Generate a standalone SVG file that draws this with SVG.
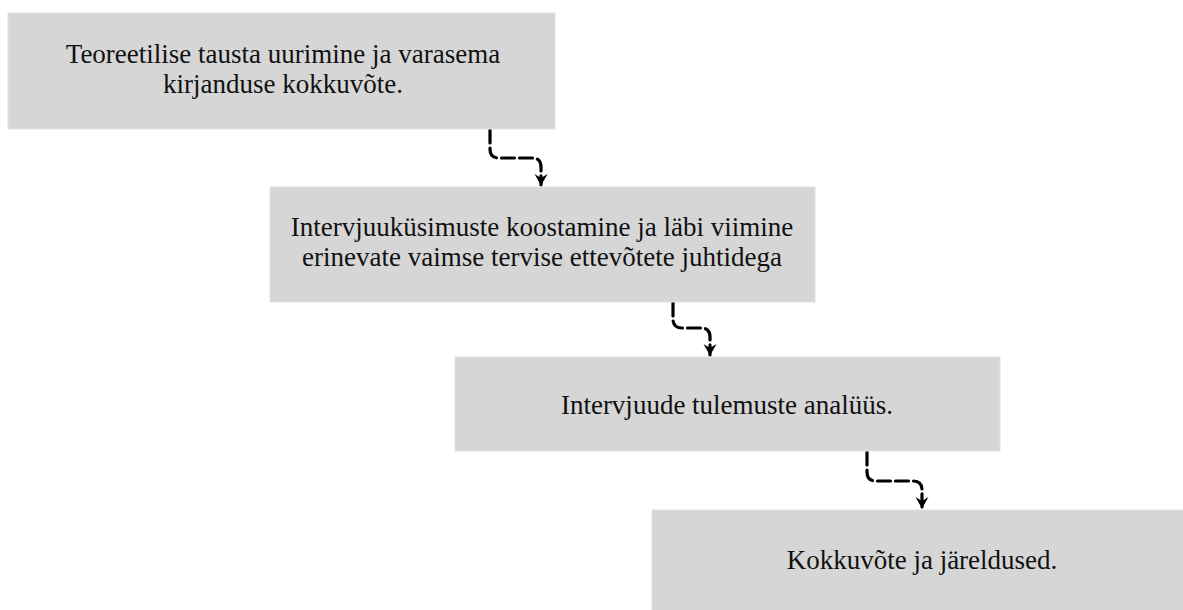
<svg xmlns="http://www.w3.org/2000/svg" width="1183" height="610" viewBox="0 0 1183 610">
<style>
.box{fill:#d6d6d6;stroke:#e2e2e2;stroke-width:1}
.t{font-family:"Liberation Serif","Times New Roman",serif;font-size:27px;fill:#111;text-anchor:middle}
.c{fill:none;stroke:#000;stroke-width:3.2;stroke-dasharray:13,5;stroke-linecap:round;stroke-linejoin:round}
</style>
<defs>
<marker id="ah" markerWidth="12" markerHeight="14" refX="11" refY="7" orient="auto" markerUnits="userSpaceOnUse" viewBox="0 0 12 14">
<path d="M0,0.5 L11.5,7 L0,13.5 L4,7 Z" fill="#000"/>
</marker>
</defs>
<rect width="1183" height="610" fill="#fff"/>
<g id="connectors">
<path class="c" d="M490,130 V149 Q490,158 499,158 H532 Q541,158 541,167 V185" marker-end="url(#ah)"/>
<path class="c" d="M673,303 V319 Q673,328 682,328 H701 Q710,328 710,337 V355" marker-end="url(#ah)"/>
<path class="c" d="M867,452 V472 Q867,481 876,481 H913 Q922,481 922,490 V508" marker-end="url(#ah)"/>
</g>
<g id="node1">
<rect class="box" x="8" y="13" width="547" height="116"/>
<text class="t" x="283" y="63">Teoreetilise tausta uurimine ja varasema</text>
<text class="t" x="283" y="93">kirjanduse kokkuvõte.</text>
</g>
<g id="node2">
<rect class="box" x="270" y="187" width="545" height="115"/>
<text class="t" x="542" y="236">Intervjuuküsimuste koostamine ja läbi viimine</text>
<text class="t" x="542" y="266">erinevate vaimse tervise ettevõtete juhtidega</text>
</g>
<g id="node3">
<rect class="box" x="455" y="357" width="545" height="94"/>
<text class="t" x="727" y="414">Intervjuude tulemuste analüüs.</text>
</g>
<g id="node4">
<rect class="box" x="652" y="510" width="532" height="101"/>
<text class="t" x="922" y="569">Kokkuvõte ja järeldused.</text>
</g>
</svg>
